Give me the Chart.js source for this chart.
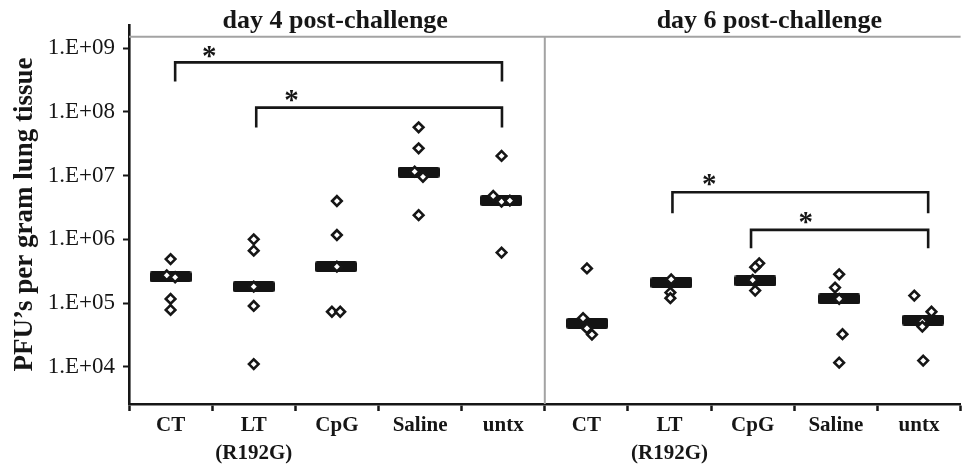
<!DOCTYPE html>
<html>
<head>
<meta charset="utf-8">
<script src="https://cdn.jsdelivr.net/npm/chart.js@4.4.1/dist/chart.umd.min.js"></script>
<style>
  html, body { margin: 0; padding: 0; background: #fff; overflow: hidden; }
  #wrap { position: relative; width: 968px; height: 465px; }
</style>
</head>
<body>
<div id="wrap"><canvas id="chart"></canvas></div>
<script>
// Lung virus titres (PFU per gram).
// x is the group slot (0..10, group i is centred on i + 0.5), small offsets = dot jitter.
const groupLabels = ['CT', ['LT', '(R192G)'], 'CpG', 'Saline', 'untx', 'CT', ['LT', '(R192G)'], 'CpG', 'Saline', 'untx'];
const panelTitles = ['day 4 post-challenge', 'day 6 post-challenge'];
const yTickValues = [1e4, 1e5, 1e6, 1e7, 1e8, 1e9];

const day4X = [0.5, 0.454, 0.555, 0.5, 0.5, 1.5, 1.5, 1.5, 1.5, 1.5, 2.5, 2.5, 2.5, 2.44, 2.54,
  3.483, 3.483, 3.435, 3.535, 3.483, 4.48, 4.38, 4.48, 4.58, 4.48];
const day4PFU = [4.9e5, 2.73e5, 2.54e5, 1.16e5, 7.8e4, 1.0e6, 6.65e5, 1.81e5, 9.0e4, 1.1e4,
  4.0e6, 1.17e6, 3.72e5, 7.3e4, 7.3e4, 5.75e7, 2.69e7, 1.16e7, 9.6e6, 2.4e6,
  2.04e7, 4.8e6, 3.9e6, 4.06e6, 6.2e5];

const day6X = [5.507, 5.46, 5.507, 5.567, 6.52, 6.51, 6.51, 7.578, 7.53, 7.5, 7.53,
  8.54, 8.49, 8.54, 8.58, 8.54, 9.443, 9.65, 9.54, 9.54, 9.55];
const day6PFU = [3.5e5, 5.8e4, 4.0e4, 3.2e4, 2.35e5, 1.46e5, 1.19e5, 4.2e5, 3.65e5, 2.3e5, 1.57e5,
  2.83e5, 1.75e5, 1.16e5, 3.24e4, 1.16e4, 1.31e5, 7.3e4, 5.1e4, 4.27e4, 1.25e4];

const medianX = [0.5, 1.5, 2.49, 3.483, 4.475, 5.51, 6.523, 7.533, 8.54, 9.55];
const medianPFU = [2.57e5, 1.81e5, 3.72e5, 1.13e7, 4.06e6, 4.8e4, 2.09e5, 2.22e5, 1.16e5, 5.4e4];

// significance brackets
const bracketFromX = [0.555, 1.53, 6.535, 7.48];
const bracketToX = [4.485, 4.485, 9.61, 9.61];
const bracketTopPFU = [6.0e8, 1.17e8, 5.48e6, 1.41e6];
const bracketFootPFU = [3.0e8, 5.7e7, 2.57e6, 7.25e5];
const starX = [0.966, 1.953, 6.977, 8.137];
const starPFU = [8.8e8, 1.78e8, 8.55e6, 2.17e6];

// panel frame
const yMinPFU = 2600;
const yMaxPFU = 2.32e9;
const frameTopPFU = 1.52e9;
const panelSplitX = 5;

const SERIF = '"Liberation Serif", "Times New Roman", serif';
const INK = '#161616';

function pairs(xs, ys) { return xs.map((x, i) => ({ x, y: ys[i] })); }

// the thick median bar used as a point style
const medianMark = document.createElement('canvas');
medianMark.width = 42; medianMark.height = 11;
(function() {
  const c = medianMark.getContext('2d');
  c.fillStyle = '#141414';
  c.beginPath();
  c.roundRect(0, 0, 42, 11, 2);
  c.fill();
})();

const diamondStyle = {
  type: 'scatter', pointStyle: 'rectRot', pointRadius: 4.8, borderWidth: 2.6,
  borderColor: INK, backgroundColor: '#fff', order: 0,
};

const datasets = [
  Object.assign({ label: 'day 4', data: pairs(day4X, day4PFU) }, diamondStyle),
  Object.assign({ label: 'day 6', data: pairs(day6X, day6PFU) }, diamondStyle),
  { label: 'median', data: pairs(medianX, medianPFU), pointStyle: medianMark, pointRadius: 5, order: 1 },
];

bracketFromX.forEach((x0, i) => {
  datasets.push({
    label: 'bracket ' + i,
    data: [
      { x: x0, y: bracketFootPFU[i] }, { x: x0, y: bracketTopPFU[i] },
      { x: bracketToX[i], y: bracketTopPFU[i] }, { x: bracketToX[i], y: bracketFootPFU[i] },
    ],
    showLine: true, borderColor: INK, borderWidth: 2.6, pointRadius: 0, order: 2,
  });
});

datasets.push({
  label: 'frame top', data: [{ x: 0, y: frameTopPFU }, { x: 10, y: frameTopPFU }],
  showLine: true, borderColor: '#a3a3a3', borderWidth: 2, pointRadius: 0, order: 3, clip: false,
});
datasets.push({
  label: 'frame split', data: [{ x: panelSplitX, y: frameTopPFU }, { x: panelSplitX, y: yMinPFU }],
  showLine: true, borderColor: '#a3a3a3', borderWidth: 2, pointRadius: 0, order: 3, clip: false,
});

// stars + panel titles
const textPlugin = {
  id: 'panelText',
  afterDatasetsDraw(chart) {
    const ctx = chart.ctx;
    const xs = chart.scales.x, ys = chart.scales.y;
    ctx.save();
    ctx.fillStyle = INK;
    ctx.font = 'bold 29px ' + SERIF;
    ctx.textAlign = 'center';
    ctx.textBaseline = 'alphabetic';
    const m = ctx.measureText('*');
    const shift = (m.actualBoundingBoxAscent - m.actualBoundingBoxDescent) / 2;
    starX.forEach((x, i) => {
      ctx.fillText('*', xs.getPixelForValue(x), ys.getPixelForValue(starPFU[i]) + shift);
    });
    ctx.font = 'bold 26px ' + SERIF;
    ctx.textBaseline = 'middle';
    const titleAt = [2.48, 7.7];
    panelTitles.forEach((t, i) => ctx.fillText(t, xs.getPixelForValue(titleAt[i]), 21));
    ctx.restore();
  }
};

new Chart(document.getElementById('chart'), {
  type: 'scatter',
  data: { datasets },
  plugins: [textPlugin],
  options: {
    responsive: true,
    maintainAspectRatio: false,
    animation: false,
    layout: { padding: { top: 25, right: 2, left: 0, bottom: 0 } },
    scales: {
      x: {
        type: 'linear', min: 0, max: 10,
        afterBuildTicks: s => { s.ticks = []; for (let v = 0; v <= 20; v++) s.ticks.push({ value: v / 2 }); },
        afterFit: s => { s.height = 61; },
        ticks: {
          autoSkip: false, maxRotation: 0, padding: 0, color: INK,
          font: { family: SERIF, size: 21, weight: 'bold', lineHeight: 1.35 },
          callback: v => Number.isInteger(v) ? '' : groupLabels[Math.floor(v)],
        },
        grid: {
          drawOnChartArea: false, drawTicks: true, tickLength: 7, tickWidth: 2.5,
          tickColor: c => Number.isInteger(c.tick.value) ? INK : 'rgba(0,0,0,0)',
        },
        border: { display: true, color: INK, width: 2.6 },
      },
      y: {
        type: 'logarithmic', min: yMinPFU, max: yMaxPFU,
        afterBuildTicks: s => { s.ticks = yTickValues.map(v => ({ value: v })); },
        afterFit: s => { s.width = 129; },
        ticks: {
          padding: 8, color: INK,
          font: { family: SERIF, size: 23 },
          callback: v => '1.E+' + String(Math.round(Math.log10(v))).padStart(2, '0'),
        },
        grid: { drawOnChartArea: false, drawTicks: true, tickLength: 6, tickWidth: 2, tickColor: INK },
        border: { display: true, color: INK, width: 2.6 },
        title: {
          display: true, text: 'PFU’s per gram lung tissue', color: INK,
          font: { family: SERIF, size: 27, weight: 'bold' },
          padding: { top: 9, bottom: 0 },
        },
      },
    },
    plugins: { legend: { display: false }, tooltip: { enabled: false } },
  },
});
</script>
</body>
</html>
